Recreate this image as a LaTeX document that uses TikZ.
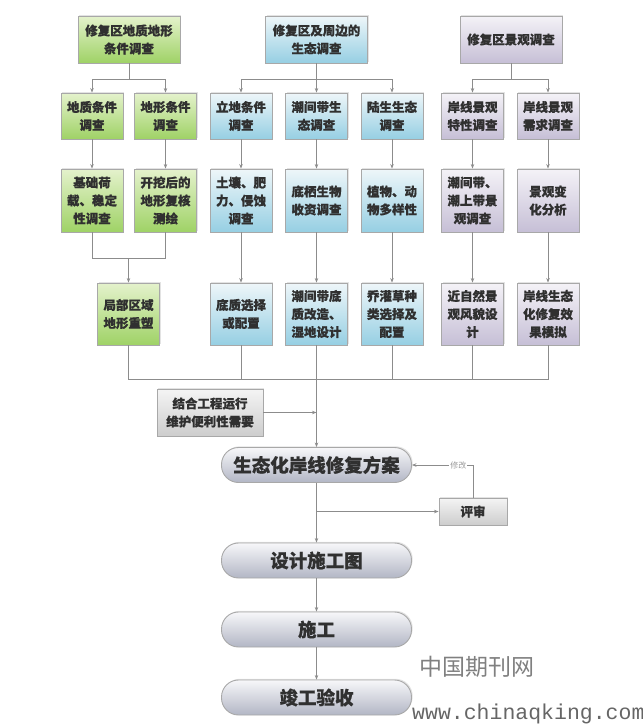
\documentclass[tikz,border=0pt]{standalone}
\usepackage{fontspec}
\newfontfamily\cjk{Noto Sans CJK SC}[BoldFeatures={FakeBold=0.5}]
\newfontfamily\wmono{Liberation Mono}
\usetikzlibrary{shadows,arrows.meta}
\definecolor{boxline}{HTML}{A8A8A8}
\definecolor{linec}{HTML}{8C8C8C}
\definecolor{textc}{HTML}{303030}
\definecolor{gtop}{HTML}{E4F2CC}
\definecolor{gbot}{HTML}{9FD266}
\definecolor{btop}{HTML}{EEF6F9}
\definecolor{bbot}{HTML}{96CFE3}
\definecolor{ptop}{HTML}{F4F2F7}
\definecolor{pbot}{HTML}{C6BFD6}
\definecolor{hgtop}{HTML}{F4F4F4}
\definecolor{hgbot}{HTML}{CDCDCD}
\definecolor{rtop}{HTML}{F7F7F9}
\definecolor{rbot}{HTML}{B2B6C5}
\tikzset{
  box/.style={draw=boxline, line width=0.9pt, align=center, text=textc,
    inner sep=0pt, font=\cjk\bfseries\fontsize{12.5}{18}\selectfont,
    drop shadow={opacity=0.22, shadow xshift=1.2pt, shadow yshift=1.2pt}},
  gbox/.style={box, top color=gtop, bottom color=gbot},
  bbox/.style={box, top color=btop, bottom color=bbot},
  pbox/.style={box, top color=ptop, bottom color=pbot},
  hbox/.style={box, top color=hgtop, bottom color=hgbot},
  colbox/.style={minimum width=62pt},
  r2/.style={colbox, minimum height=46pt},
  r3/.style={colbox, minimum height=63pt},
  r4/.style={colbox, minimum height=62pt},
  topbox/.style={minimum width=102pt, minimum height=47pt},
  pill/.style={box, top color=rtop, bottom color=rbot, rounded corners=17pt,
    minimum width=190pt, minimum height=35pt,
    font=\cjk\bfseries\fontsize{18.5}{20}\selectfont},
  conn/.style={draw=linec, line width=0.8pt},
  arr/.style={conn, -{Stealth[length=4.5pt, width=3.5pt]}},
}
\begin{document}
\begin{tikzpicture}[x=1pt, y=-1pt]
\useasboundingbox (0,0) rectangle (643,724);
% top row
\node[gbox, topbox] (A) at (129,39.5) {修复区地质地形\\条件调查};
\node[bbox, topbox] (B) at (316.5,39.5) {修复区及周边的\\生态调查};
\node[pbox, topbox] (C) at (511,39.5) {修复区景观调查};
% row 2
\node[gbox, r2] (g21) at (92,116) {地质条件\\调查};
\node[gbox, r2] (g22) at (165.5,116) {地形条件\\调查};
\node[bbox, r2] (b21) at (241,116) {立地条件\\调查};
\node[bbox, r2] (b22) at (316.5,116) {潮间带生\\态调查};
\node[bbox, r2] (b23) at (392,116) {陆生生态\\调查};
\node[pbox, r2] (p21) at (472.5,116) {岸线景观\\特性调查};
\node[pbox, r2] (p22) at (548,116) {岸线景观\\需求调查};
% row 3
\node[gbox, r3] (g31) at (92,200.5) {基础荷\\载、稳定\\性调查};
\node[gbox, r3] (g32) at (165.5,200.5) {开挖后的\\地形复核\\测绘};
\node[bbox, r3] (b31) at (241,200.5) {土壤、肥\\力、侵蚀\\调查};
\node[bbox, r3] (b32) at (316.5,200.5) {底栖生物\\收资调查};
\node[bbox, r3] (b33) at (392,200.5) {植物、动\\物多样性};
\node[pbox, r3] (p31) at (472.5,200.5) {潮间带、\\潮上带景\\观调查};
\node[pbox, r3] (p32) at (548,200.5) {景观变\\化分析};
% row 4
\node[gbox, r4] (g4) at (128.5,314) {局部区域\\地形重塑};
\node[bbox, r4] (b41) at (241,314) {底质选择\\或配置};
\node[bbox, r4] (b42) at (316.5,314) {潮间带底\\质改造、\\湿地设计};
\node[bbox, r4] (b43) at (392,314) {乔灌草种\\类选择及\\配置};
\node[pbox, r4] (p41) at (472.5,314) {近自然景\\观风貌设\\计};
\node[pbox, r4] (p42) at (548,314) {岸线生态\\化修复效\\果模拟};
% lower part
\node[hbox, minimum width=106pt, minimum height=47pt] (need) at (210,412.5) {结合工程运行\\维护便利性需要};
\node[pill] (main) at (316.5,465) {生态化岸线修复方案};
\node[hbox, minimum width=68pt, minimum height=27pt] (rev) at (473,511.5) {评审};
\node[pill] (d1) at (316.5,560.5) {设计施工图};
\node[pill] (d2) at (316.5,629.5) {施工};
\node[pill] (d3) at (316.5,697.5) {竣工验收};
% junctions
\coordinate (jA) at (129,79);
\coordinate (jB) at (316.5,79);
\coordinate (jC) at (511,79);
\coordinate (jG) at (128.5,258);
\coordinate (jBot) at (316.5,379);
\coordinate (jRev) at (316.5,511.5);
% connectors top
\draw[conn] (A.south) -- (jA);
\draw[arr] (jA) -| (g21.north);
\draw[arr] (jA) -| (g22.north);
\draw[conn] (B.south) -- (jB);
\draw[arr] (jB) -| (b21.north);
\draw[arr] (jB) -- (b22.north);
\draw[arr] (jB) -| (b23.north);
\draw[conn] (C.south) -- (jC);
\draw[arr] (jC) -| (p21.north);
\draw[arr] (jC) -| (p22.north);
% row2 -> row3
\foreach \a/\b in {g21/g31, g22/g32, b21/b31, b22/b32, b23/b33, p21/p31, p22/p32}
  \draw[arr] (\a.south) -- (\b.north);
% row3 -> row4
\draw[conn] (g31.south) |- (jG);
\draw[conn] (g32.south) |- (jG);
\draw[arr] (jG) -- (g4.north);
\foreach \a/\b in {b31/b41, b32/b42, b33/b43, p31/p41, p32/p42}
  \draw[arr] (\a.south) -- (\b.north);
% row4 -> collector
\foreach \a in {g4, b41, b43, p41, p42}
  \draw[conn] (\a.south) |- (jBot);
\draw[conn] (b42.south) -- (jBot);
\draw[arr] (jBot) -- (main.north);
\draw[arr] (need.east) -- (need.east -| jBot);
% lower flow
\draw[arr] (main.south) -- (d1.north);
\draw[arr] (jRev) -- (rev.west);
\draw[arr] (rev.north) |- node[pos=0.62, fill=white, inner sep=1pt, text=black!40,
  font=\cjk\fontsize{8}{8}\selectfont] {修改} (main.east);
\draw[arr] (d1.south) -- (d2.north);
\draw[arr] (d2.south) -- (d3.north);
% watermark
\node[text=black!50, font=\cjk\fontsize{23}{23}\selectfont, inner sep=0pt] (wm1) at (476.5,667) {中国期刊网};
\node[text=black!60, font=\wmono\fontsize{21.5}{21.5}\selectfont, anchor=west, inner sep=0pt] (wm2) at (412,714) {www.chinaqking.com};
\end{tikzpicture}
\end{document}
